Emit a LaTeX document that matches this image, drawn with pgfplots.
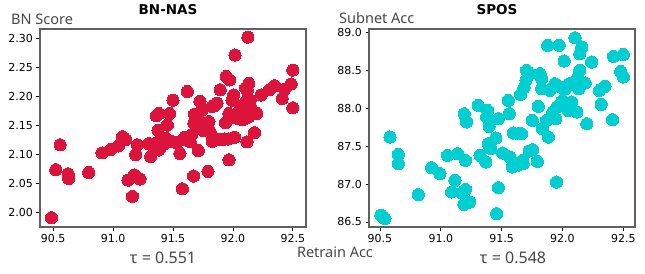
\documentclass[border=0pt]{standalone}
\usepackage{pgfplots}
\pgfplotsset{compat=1.18}
\usepackage{fontspec}
\setmainfont{DejaVu Sans}
\newfontfamily\labfont{Noto Sans}
\newfontfamily\titfont{DejaVu Sans Bold}
\definecolor{crim}{RGB}{220,20,60}
\definecolor{turq}{RGB}{0,206,209}
\definecolor{labgray}{RGB}{70,70,70}
\pgfplotsset{
  myax/.style={
    scale only axis, width=266pt, height=198pt,
    axis line style={gray!75!black, line width=1.1pt},
    tick align=outside, tick pos=left, major tick length=3.5pt,
    tick style={black, line width=0.8pt},
    ticklabel style={font=\fontsize{11}{13}\selectfont},
    /pgf/number format/assume math mode=true,
    xtick={90.5,91,91.5,92,92.5},
    xticklabel style={/pgf/number format/.cd, fixed, fixed zerofill, precision=1},
    only marks,
  }
}
\begin{document}
\begin{tikzpicture}
\useasboundingbox (-40pt,-46pt) rectangle (605pt,227pt);
\begin{axis}[myax, at={(0pt,0pt)}, anchor=south west,
  xmin=90.39, xmax=92.61, ymin=1.975, ymax=2.317,
  ytick={2,2.05,2.1,2.15,2.2,2.25,2.3},
  yticklabel style={/pgf/number format/.cd, fixed, fixed zerofill, precision=2}]
\addplot[mark=*, mark size=6.1pt, mark options={draw=crim, fill=crim, line width=0pt}] coordinates {
(90.486,1.991) (90.522,2.074) (90.558,2.117) (90.625,2.067) (90.63,2.059)
(90.797,2.069) (90.908,2.103) (90.98,2.109) (91.044,2.115) (91.078,2.131)
(91.106,2.126) (91.125,2.056) (91.161,2.028) (91.178,2.065) (91.189,2.100)
(91.203,2.117) (91.225,2.058) (91.297,2.119) (91.314,2.097) (91.361,2.167)
(91.383,2.171) (91.375,2.142) (91.389,2.125) (91.394,2.112) (91.453,2.151)
(91.472,2.171) (91.5,2.194) (91.444,2.128) (91.5,2.122) (91.558,2.102)
(91.581,2.126) (91.578,2.041) (91.619,2.209) (91.644,2.122) (91.653,2.134)
(91.672,2.063) (91.675,2.154) (91.694,2.168) (91.711,2.107) (91.725,2.192)
(91.742,2.177) (91.75,2.142) (91.778,2.154) (91.8,2.157) (91.792,2.071)
(91.825,2.183) (91.811,2.139) (91.828,2.123) (91.867,2.189) (91.894,2.212)
(91.861,2.127) (91.931,2.127) (91.939,2.155) (91.944,2.235) (91.972,2.229)
(91.967,2.091) (91.967,2.171) (91.992,2.194) (92.014,2.130) (92.017,2.272)
(92.006,2.203) (92.033,2.163) (92.061,2.183) (92.078,2.171) (92.106,2.215)
(92.111,2.163) (92.117,2.122) (92.125,2.303) (92.133,2.223) (92.144,2.194)
(92.153,2.180) (92.181,2.138) (92.2,2.171) (92.236,2.203) (92.306,2.212)
(92.347,2.219) (92.411,2.197) (92.431,2.213) (92.486,2.222) (92.5,2.246)
(92.5,2.181) (91.89,2.126)
(91.42,2.118) (91.47,2.122) (91.53,2.12) (91.60,2.13) (91.69,2.15)
(91.72,2.16) (91.76,2.148) (91.85,2.125) (91.90,2.126) (91.96,2.127)
(92.08,2.16) (92.10,2.19) (92.12,2.21) (92.05,2.175) (92.13,2.165)
(91.68,2.17) (91.85,2.185) (92.0,2.165) (91.38,2.108) (91.36,2.12)
};
\end{axis}
\begin{axis}[myax, at={(329pt,0pt)}, anchor=south west,
  xmin=90.41, xmax=92.596, ymin=86.434, ymax=89.04,
  ytick={86.5,87,87.5,88,88.5,89},
  yticklabel style={/pgf/number format/.cd, fixed, fixed zerofill, precision=1}]
\addplot[mark=*, mark size=6.1pt, mark options={draw=turq, fill=turq, line width=0pt}] coordinates {
(90.508,86.588) (90.541,86.544) (90.525,86.57) (90.582,87.618) (90.651,87.390)
(90.651,87.268) (90.815,86.860) (90.925,87.215) (90.993,87.136) (91.056,87.377)
(91.089,86.895) (91.116,87.048) (91.137,87.399) (91.171,86.882) (91.19,86.732)
(91.203,86.930) (91.238,86.763) (91.203,87.311) (91.193,87.925) (91.212,87.816)
(91.308,88.035) (91.322,87.377) (91.37,87.289) (91.385,87.969) (91.377,87.882)
(91.397,87.759) (91.39,87.531) (91.411,87.465) (91.452,87.605) (91.473,87.86)
(91.473,86.952) (91.459,86.61) (91.508,87.408) (91.555,88.101) (91.563,87.925)
(91.567,87.355) (91.588,87.224) (91.596,87.671) (91.637,87.662) (91.664,87.662)
(91.656,88.18) (91.671,87.311) (91.677,87.268) (91.684,88.268) (91.7,88.364)
(91.705,88.496) (91.727,87.434) (91.755,87.452) (91.752,87.838) (91.733,88.452)
(91.793,87.298) (91.801,88.022) (91.815,88.452) (91.829,88.386) (91.829,88.254)
(91.836,87.728) (91.868,87.838) (91.878,88.825) (91.884,87.618) (91.897,88.232)
(91.938,88.32) (91.945,87.86) (91.951,87.026) (91.956,88.013) (91.973,88.825)
(91.984,88.276) (92.0,88.101) (92.014,88.618) (92.027,88.035) (92.047,87.969)
(92.055,88.32) (92.075,88.079) (92.103,88.925) (92.118,87.947) (92.126,88.408)
(92.134,88.254) (92.142,88.496) (92.142,88.715) (92.159,88.803) (92.186,88.329)
(92.2,87.794) (92.24,88.605) (92.303,88.232) (92.318,88.048) (92.349,88.285)
(92.412,87.846) (92.419,88.68) (92.5,88.706) (92.479,88.482) (92.5,88.408)
(92.02,88.25) (91.92,87.95) (91.99,88.07) (92.1,88.3) (91.64,87.25)
};
\end{axis}
\node[font=\titfont\fontsize{13.5}{16}\selectfont] at (128pt,217pt) {BN-NAS};
\node[font=\titfont\fontsize{13.5}{16}\selectfont] at (457pt,217pt) {SPOS};
\node[font=\labfont\fontsize{14.5}{16}\selectfont, text=labgray, anchor=west, inner sep=0pt] at (-29pt,208pt) {BN Score};
\node[font=\labfont\fontsize{14.5}{16}\selectfont, text=labgray, anchor=west, inner sep=0pt] at (299pt,208.5pt) {Subnet Acc};
\node[font=\labfont\fontsize{14.5}{16}\selectfont, text=labgray] at (295pt,-25pt) {Retrain Acc};
\node[font=\labfont\fontsize{16}{18}\selectfont, text=labgray] at (123pt,-31pt) {τ = 0.551};
\node[font=\labfont\fontsize{16}{18}\selectfont, text=labgray] at (473pt,-31pt) {τ = 0.548};
\end{tikzpicture}
\end{document}
